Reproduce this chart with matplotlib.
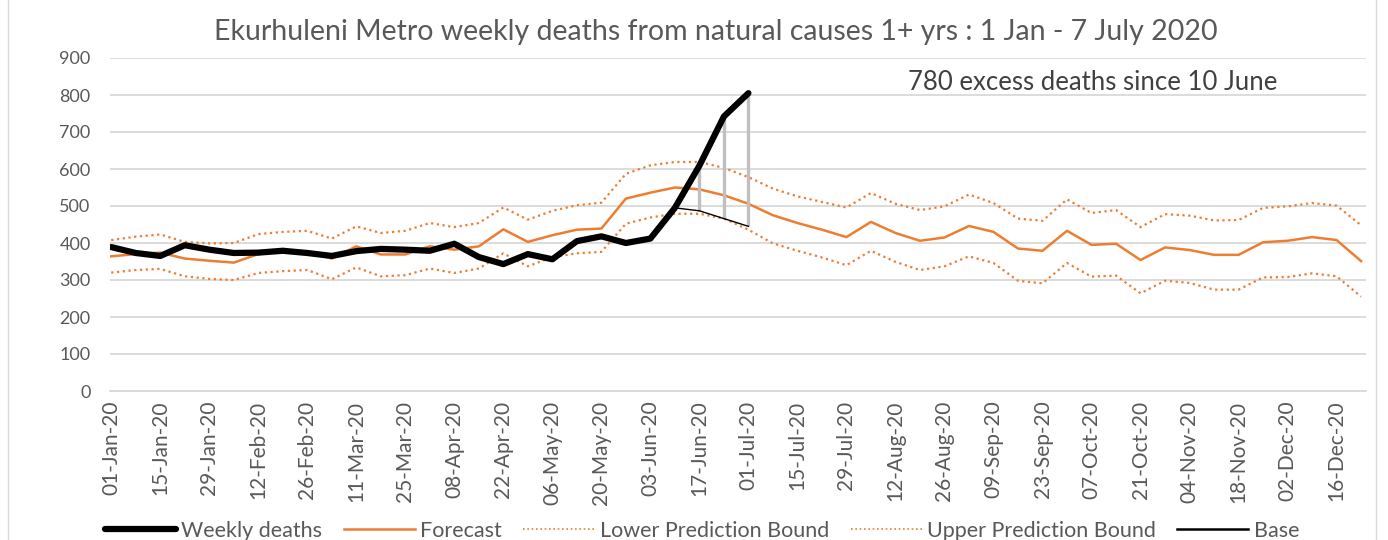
import numpy as np
import pandas as pd
import matplotlib
matplotlib.use('Agg')
import matplotlib.pyplot as plt
from matplotlib.lines import Line2D

plt.rcParams['font.family'] = ['Lato', 'DejaVu Sans']

# semanas de 2020
semanas = pd.date_range('2020-01-01', periods=52, freq='7D')
rotulos = [d.strftime('%d-%b-%y') for d in semanas]

# obitos semanais (ate 01-Jul)
obitos = [389, 373, 365, 394, 382, 373, 374, 379, 373, 365, 378, 384,
          382, 379, 398, 362, 343, 370, 356, 405, 418, 400, 412, 495,
          609, 742, 805]

previsao = [364, 370, 374, 358, 352, 347, 370, 379, 377, 358, 391, 369,
            369, 391, 382, 391, 437, 403, 421, 436, 439, 520, 536, 550,
            545, 529, 506, 475, 454, 436, 416, 457, 427, 406, 415, 446,
            430, 385, 379, 433, 395, 398, 354, 388, 381, 368, 368, 402,
            406, 416, 408, 351]

limite_sup = [408, 417, 423, 403, 399, 400, 424, 430, 433, 412, 445, 427,
              433, 454, 443, 454, 496, 463, 487, 502, 509, 587, 610, 619,
              619, 603, 578, 547, 526, 511, 496, 535, 506, 489, 499, 531,
              508, 466, 460, 518, 481, 489, 443, 478, 474, 461, 462, 495,
              499, 508, 501, 448]

limite_inf = [320, 327, 330, 310, 303, 300, 319, 324, 327, 302, 334, 310,
              313, 331, 319, 331, 372, 337, 362, 372, 376, 452, 469, 479,
              479, 466, 436, 399, 379, 361, 340, 379, 349, 327, 337, 364,
              346, 298, 291, 346, 309, 312, 264, 298, 292, 274, 274, 307,
              308, 318, 310, 255]

# base a partir de 10-Jun
base_ini = 23
base = [495, 487, 466, 445]

titulo = 'Ekurhuleni Metro weekly deaths from natural causes 1+ yrs : 1 Jan - 7 July 2020'
nota = '780 excess deaths since 10 June'

laranja = '#ED7D31'
cinza_txt = '#595959'

fig = plt.figure(figsize=(13.88, 5.4), dpi=100)
ax = fig.add_axes([110/1388, 1 - 391/540, (1366 - 110)/1388, (391 - 58)/540])

x = np.arange(len(semanas))
xo = x[:len(obitos)]
xb = x[base_ini:base_ini + len(base)]

ax.plot(x, limite_inf, color=laranja, lw=1.6, ls=(0, (1, 1.6)))
ax.plot(x, limite_sup, color=laranja, lw=1.6, ls=(0, (1, 1.6)))
ax.plot(x, previsao, color=laranja, lw=1.8)
# excesso: barras cinza entre base e obitos
ax.vlines(xb[1:], base[1:], np.array(obitos)[xb[1:]], color='#BFBFBF', lw=2.4, zorder=3)
ax.plot(xb, base, color='black', lw=1.0, zorder=4)
ax.plot(xo, obitos, color='black', lw=4.5, solid_joinstyle='round',
        solid_capstyle='round', zorder=5)

ax.set_ylim(0, 900)
ax.set_yticks(range(0, 901, 100))
ax.set_xlim(-0.05, 51.2)
ax.set_xticks(x[::2])
ax.set_xticklabels(rotulos[::2], rotation=90)
ax.grid(axis='y', color='#D9D9D9', lw=1.3)
ax.set_axisbelow(True)
for s in ax.spines.values():
    s.set_visible(False)
ax.spines['bottom'].set_visible(True)
ax.spines['bottom'].set_color('#D9D9D9')
ax.spines['bottom'].set_linewidth(1.3)
ax.tick_params(axis='both', length=0, labelcolor=cinza_txt)
ax.tick_params(axis='y', pad=14, labelsize=13)
ax.tick_params(axis='x', pad=7, labelsize=15)

fig.text(0.516, 1 - 32/540, titulo, ha='center', va='center', fontsize=20.5, color=cinza_txt)
fig.text(1093/1388, 1 - 83/540, nota, ha='center', va='center', fontsize=18.5, color='#404040')

# moldura do grafico
fig.add_artist(Line2D([8/1388, 8/1388], [0, 1], color='#D9D9D9', lw=1))
fig.add_artist(Line2D([1376/1388, 1376/1388], [0, 1], color='#D9D9D9', lw=1))

itens = [Line2D([], [], color='black', lw=4.5, solid_capstyle='round'),
         Line2D([], [], color=laranja, lw=1.8),
         Line2D([], [], color=laranja, lw=1.2, ls=(0, (1, 1.6))),
         Line2D([], [], color=laranja, lw=1.2, ls=(0, (1, 1.6))),
         Line2D([], [], color='black', lw=1.8)]
nomes = ['Weekly deaths', 'Forecast', 'Lower Prediction Bound',
         'Upper Prediction Bound', 'Base']
fig.legend(itens, nomes, loc='center', bbox_to_anchor=(702/1388, 1 - 531/540),
           ncol=5, frameon=False, fontsize=15.5, labelcolor=cinza_txt,
           handlelength=3.3, handletextpad=0.25, columnspacing=1.0)

fig.savefig('out.png', dpi=100)
